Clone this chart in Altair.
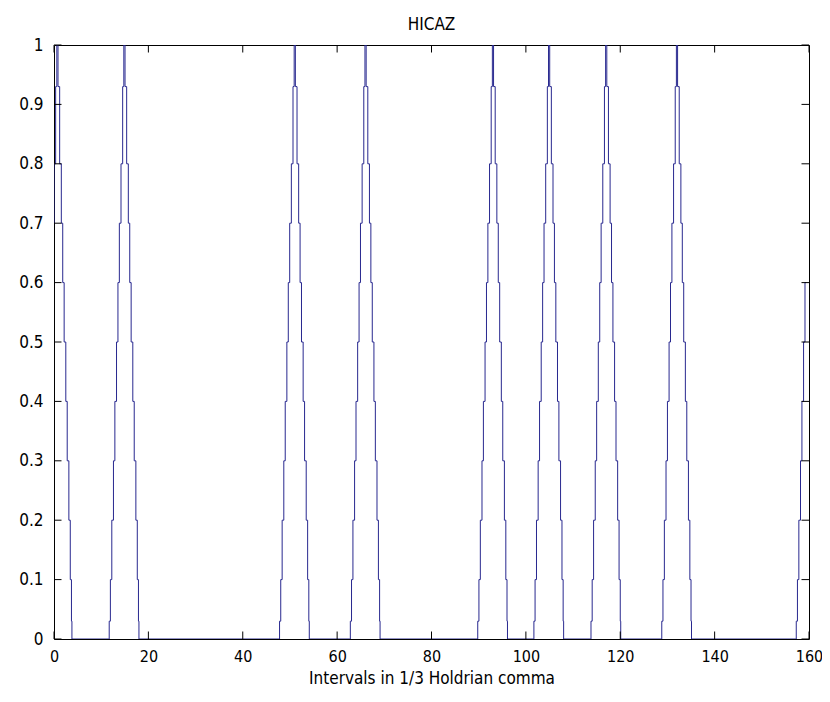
import altair as alt
import pandas as pd

# Peak centres (x, in 1/3 Holdrian comma)
peak_centers = [0.6, 14.8, 50.9, 65.9, 92.9, 104.8, 116.9, 131.9, 160.4]
# Stair profile of one peak (rising side)
step_offsets = [-3.2, -3.1, -2.85, -2.55, -2.2, -1.9, -1.55, -1.25, -0.95, -0.6, -0.25, 0.0]
step_levels = [0.0, 0.03, 0.1, 0.2, 0.3, 0.4, 0.5, 0.6, 0.7, 0.8, 0.93, 1.0]
x_end = 159.4

x_ticks = [0, 20, 40, 60, 80, 100, 120, 140, 160]
y_ticks = [0, 0.1, 0.2, 0.3, 0.4, 0.5, 0.6, 0.7, 0.8, 0.9, 1.0]

rows = []
for c in peak_centers:
    for o, v in zip(step_offsets, step_levels):
        rows.append((c + o, v))
    for o, v in zip(reversed(step_offsets[:-1]), reversed(step_levels[:-1])):
        rows.append((c - o, v))
df = pd.DataFrame(rows, columns=["x", "y"]).sort_values("x")
df = df[df["x"] <= x_end]
df = pd.concat([df, pd.DataFrame({"x": [x_end], "y": [df["y"].iloc[-1]]})])

W, H = 755, 594
FONT = "Liberation Sans Narrow, DejaVu Sans Condensed, Liberation Sans"
FS = 17
TL = 7.5

xs = alt.Scale(domain=[0, 160], nice=False, zero=False)
ys = alt.Scale(domain=[0, 1], nice=False)

line = alt.Chart(df).mark_line(
    interpolate="step-after", color="#28288f", strokeWidth=1, clip=True
).encode(
    x=alt.X("x:Q", scale=xs, axis=alt.Axis(
        values=x_ticks, title="Intervals in 1/3 Holdrian comma", ticks=False,
        tickSize=0, labelPadding=9, grid=False, domain=False,
        titlePadding=6, labelFlush=False,
        labelFont=FONT, labelFontSize=16, titleFont=FONT, titleFontSize=FS,
        titleFontWeight="normal", labelColor="#000000", titleColor="#000000")),
    y=alt.Y("y:Q", scale=ys, axis=alt.Axis(
        values=y_ticks, title=None, ticks=False, tickSize=0, labelPadding=11,
        grid=False, domain=False, labelFlush=False,
        labelFont=FONT, labelFontSize=FS, labelColor="#000000",
        labelExpr="datum.value == 0 ? '0' : datum.value == 1 ? '1' : format(datum.value, '.1f')")),
)

xt = pd.DataFrame({"t": x_ticks})
yt = pd.DataFrame({"t": y_ticks})
tick_color = "#000000"

xb = alt.Chart(xt).mark_rule(color=tick_color, strokeWidth=1).encode(
    x=alt.X("t:Q", scale=xs), y=alt.value(H), y2=alt.value(H - TL))
xtop = alt.Chart(xt).mark_rule(color=tick_color, strokeWidth=1).encode(
    x=alt.X("t:Q", scale=xs), y=alt.value(0), y2=alt.value(TL))
yl = alt.Chart(yt).mark_rule(color=tick_color, strokeWidth=1).encode(
    y=alt.Y("t:Q", scale=ys), x=alt.value(0), x2=alt.value(TL))
yr = alt.Chart(yt).mark_rule(color=tick_color, strokeWidth=1).encode(
    y=alt.Y("t:Q", scale=ys), x=alt.value(W), x2=alt.value(W - TL))

title = alt.Chart(pd.DataFrame({"t": ["HICAZ"]})).mark_text(
    font=FONT, fontSize=FS, color="#000000", baseline="alphabetic", align="center"
).encode(text="t:N", x=alt.value(W / 2), y=alt.value(-15))

chart = alt.layer(line, xb, xtop, yl, yr, title).properties(
    width=W, height=H,
    autosize=alt.AutoSizeParams(type="none"),
    padding={"left": 46, "top": 37, "right": 13, "bottom": 54},
    background="#ffffff",
).configure_view(
    stroke="#000000", strokeWidth=1
)

chart.save("out.html", embed_options={"renderer": "svg", "actions": False})
